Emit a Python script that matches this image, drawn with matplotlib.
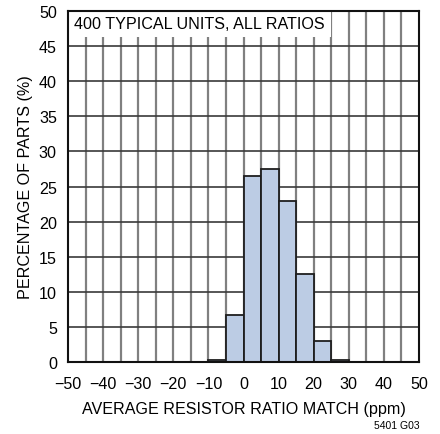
import matplotlib
matplotlib.use("Agg")
import matplotlib.pyplot as plt
from matplotlib.patches import Rectangle

# histogram of ratio match, 5 ppm bins
bin_left = [-10, -5, 0, 5, 10, 15, 20, 25]
pct_parts = [0.25, 6.75, 26.5, 27.5, 23.0, 12.5, 3.0, 0.25]
xticks = [-50, -40, -30, -20, -10, 0, 10, 20, 30, 40, 50]
yticks = [0, 5, 10, 15, 20, 25, 30, 35, 40, 45, 50]

plt.rcParams['font.family'] = ['Liberation Sans', 'DejaVu Sans']
FS = 11.6

fig = plt.figure(figsize=(4.4, 4.35), dpi=100)
ax = fig.add_axes([68/440, 1 - 363/435, 351/440, 351/435])

ax.set_xlim(-50, 50)
ax.set_ylim(0, 50)

# grid
for x in range(-45, 50, 5):
    ax.axvline(x, color='#808080', lw=1.6, zorder=1)
for y in range(5, 50, 5):
    ax.axhline(y, color='#3a3a3a', lw=1.2, zorder=1)

ax.bar(bin_left, pct_parts, width=5, align='edge', color='#bccce4',
       edgecolor='#1e1e1e', lw=1.3, zorder=3)

# white label box hides grid at the top
ax.add_patch(Rectangle((-50, 46.3), 75, 3.7, facecolor='white', edgecolor='none', zorder=2))
ax.text(-48.2, 48.15, '400 TYPICAL UNITS, ALL RATIOS', fontsize=FS,
        va='center', ha='left', zorder=4)

ax.set_xticks(xticks)
ax.set_yticks(yticks)
ax.tick_params(length=0, labelsize=FS, pad=10)
ax.tick_params(axis='y', pad=8)
for s in ax.spines.values():
    s.set_linewidth(1.5)
    s.set_color('#111111')
    s.set_zorder(5)

ax.set_xlabel('AVERAGE RESISTOR RATIO MATCH (ppm)', fontsize=FS, labelpad=7)
ax.set_ylabel('PERCENTAGE OF PARTS (%)', fontsize=FS, labelpad=4)
fig.text(420/440, 1 - 426/435, '5401 G03', fontsize=7.5, ha='right', va='center')

fig.savefig('out.png', dpi=100)
